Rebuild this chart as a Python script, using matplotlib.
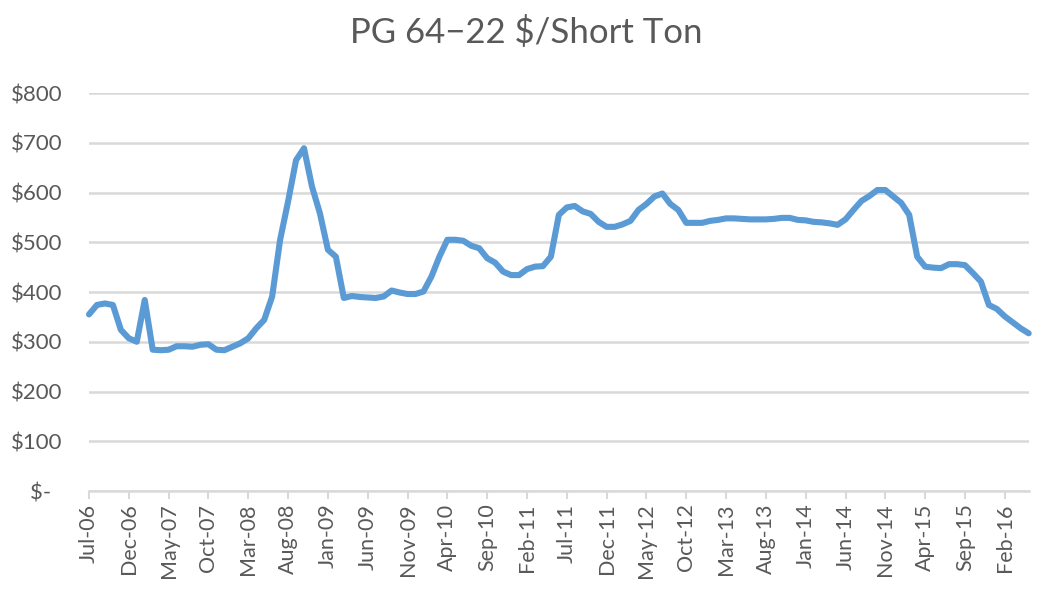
"""
PG 64-22 asphalt binder price, $/short ton, monthly Jul-06 to May-16.
"""
import matplotlib
matplotlib.use("Agg")
import matplotlib.pyplot as plt
import pandas as pd

# monthly prices, starting Jul-06
prices = [
    355, 374, 377, 374, 324, 307, 300, 384, 284, 283,
    284, 291, 291, 290, 294, 295, 284, 283, 290, 297,
    307, 327, 344, 391, 505, 582, 665, 689, 612, 558,
    485, 471, 388, 392, 390, 389, 388, 391, 403, 399,
    396, 396, 401, 431, 471, 505, 505, 503, 493, 488,
    468, 459, 441, 434, 434, 446, 451, 452, 471, 555,
    570, 573, 562, 557, 541, 531, 531, 536, 543, 565,
    577, 592, 598, 577, 565, 539, 539, 539, 543, 545,
    548, 548, 547, 546, 546, 546, 547, 549, 549, 545,
    544, 541, 540, 538, 535, 546, 565, 583, 593, 605,
    605, 592, 579, 555, 471, 451, 449, 448, 456, 456,
    454, 438, 421, 374, 366, 351, 339, 327, 317,
]
months = pd.date_range("2006-07-01", periods=len(prices), freq="MS")
month_labels = [m.strftime("%b-%y") for m in months]

tick_step = 5
y_ticks = [0, 100, 200, 300, 400, 500, 600, 700, 800]
y_labels = ["$-  ", "$100", "$200", "$300", "$400", "$500", "$600", "$700", "$800"]

plt.rcParams["font.family"] = ["Lato", "DejaVu Sans"]

fig = plt.figure(figsize=(10.57, 5.94), dpi=100)
ax = fig.add_axes([0.0842, 0.1734, 0.889, 0.670])

x = list(range(len(prices)))
ax.plot(x, prices, color="#5B9BD5", lw=4.4, solid_joinstyle="round",
        solid_capstyle="round", zorder=3, clip_on=False)

ax.set_xlim(0, len(prices) - 1)
ax.set_ylim(0, 800)

ax.set_yticks(y_ticks)
ax.set_yticklabels(y_labels)
ax.yaxis.grid(True, color="#d9d9d9", lw=1.8)
ax.set_axisbelow(True)

tick_pos = x[::tick_step]
ax.set_xticks(tick_pos)
ax.set_xticklabels([month_labels[i] for i in tick_pos], rotation=90)

for side in ["top", "right", "left"]:
    ax.spines[side].set_visible(False)
ax.spines["bottom"].set_color("#d9d9d9")
ax.spines["bottom"].set_linewidth(1.8)

ax.tick_params(axis="y", length=0, pad=19, labelsize=16, labelcolor="#595959")
ax.tick_params(axis="x", length=6, width=1.5, color="#d9d9d9", pad=3,
               labelsize=15.5, labelcolor="#595959")

fig.text(0.498, 0.945, "PG 64\u221222 $/Short Ton", ha="center", va="center",
         fontsize=25, color="#595959")

fig.savefig("out.png", dpi=100)
